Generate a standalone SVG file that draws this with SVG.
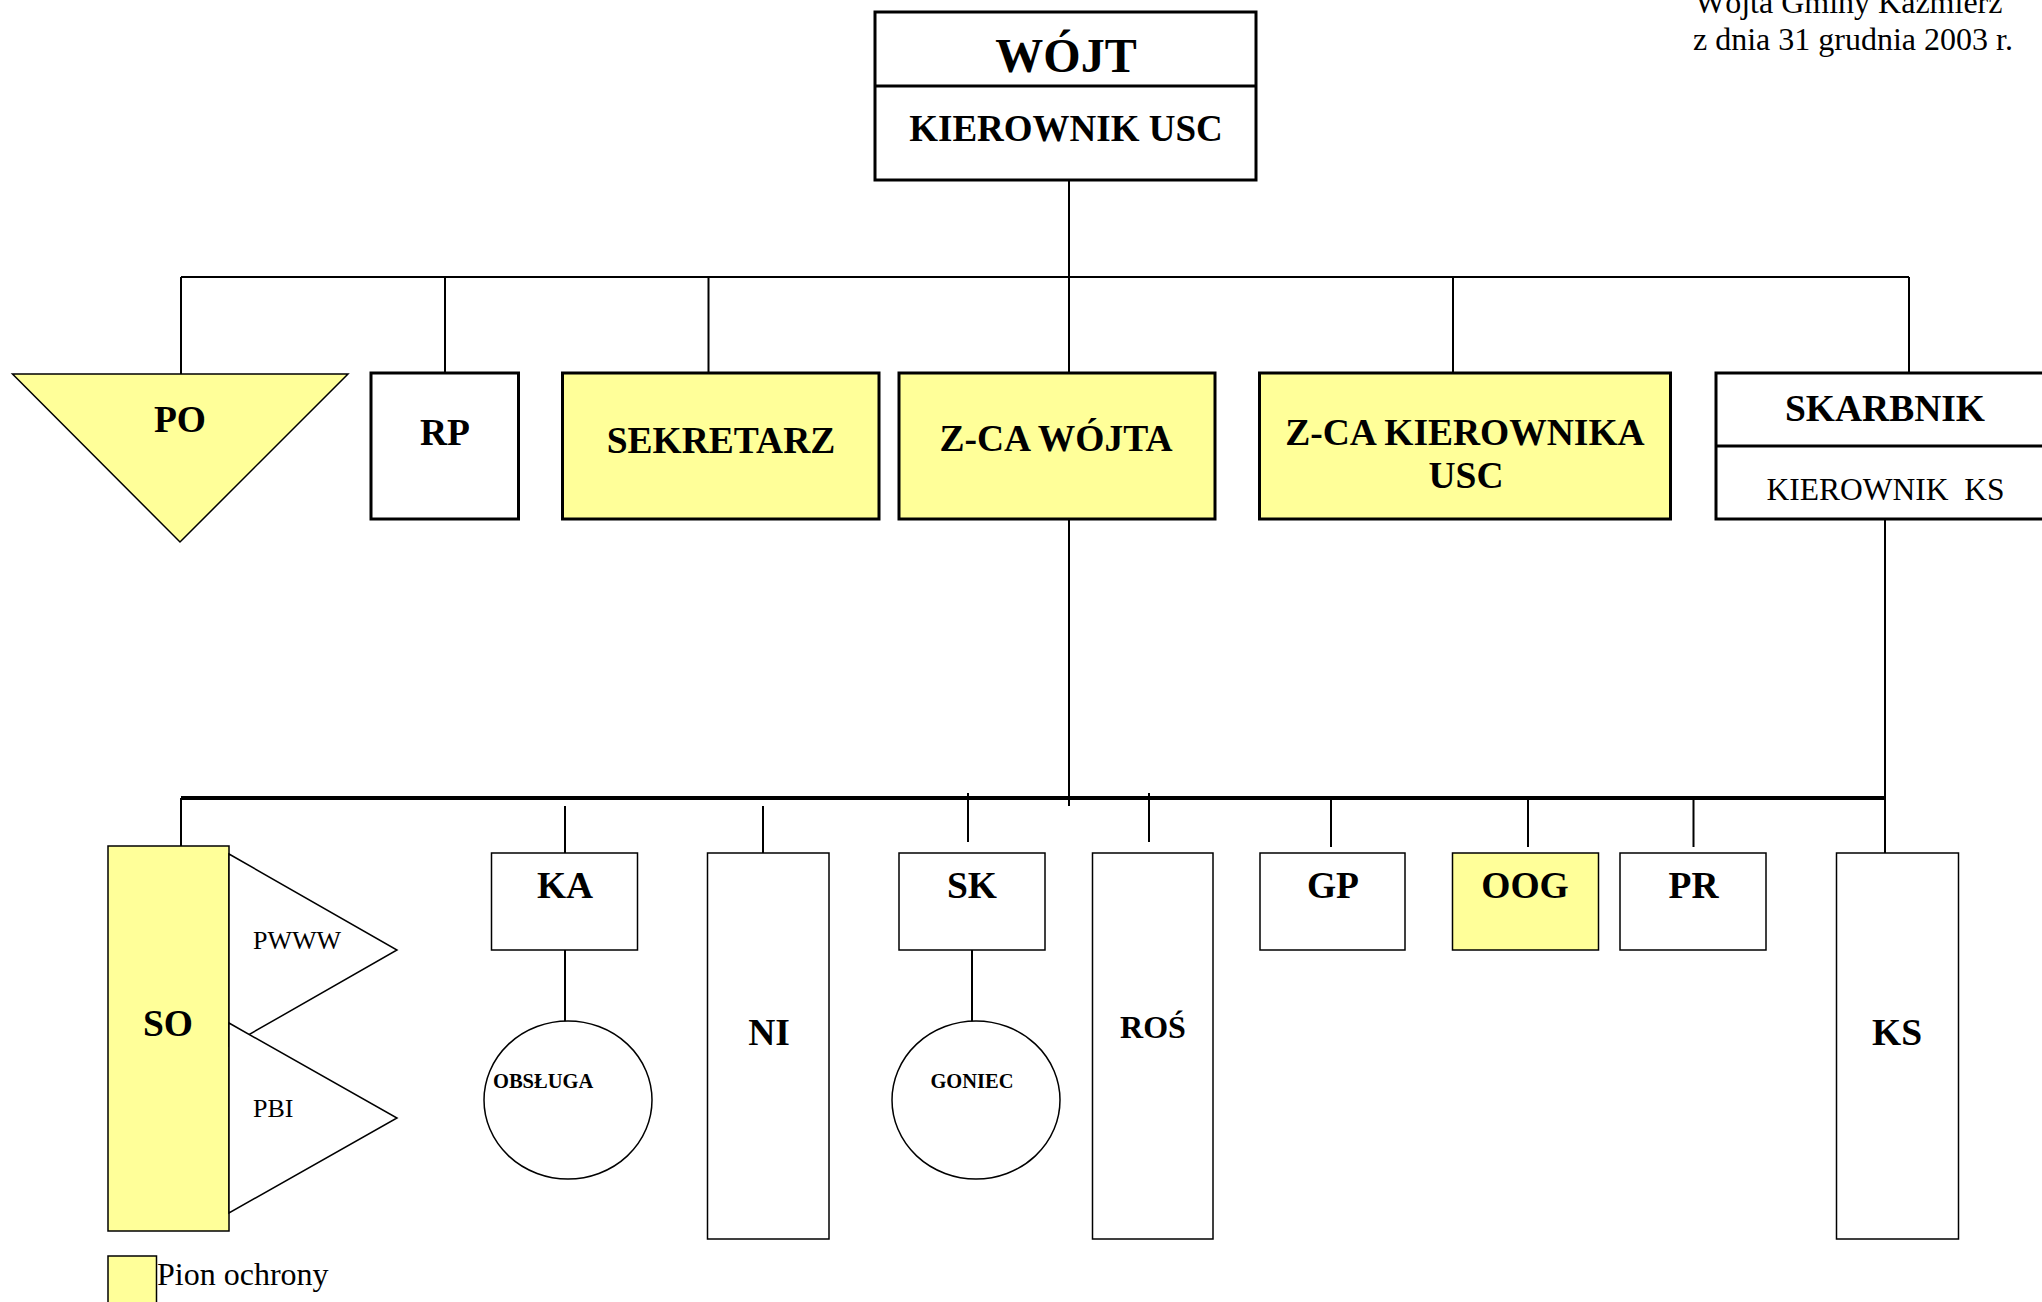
<svg xmlns="http://www.w3.org/2000/svg" width="2042" height="1302" viewBox="0 0 2042 1302">
<style>
text{font-family:"Liberation Serif","Times New Roman",serif;fill:#000}
.b{font-weight:bold}
.c{text-anchor:middle}
.big{font-size:37.5px}
.y{fill:#FFFF99}
.w{fill:#fff}
.thick{stroke:#000;stroke-width:3}
.thin{stroke:#000;stroke-width:1.5}
.ln{stroke:#000;stroke-width:2;fill:none}
.bus{stroke:#000;stroke-width:4;fill:none}
</style>
<rect width="2042" height="1302" fill="#fff"/>
<g id="header">
<text x="1695" y="13" font-size="32">Wójta Gminy Kazmierz</text>
<text x="1693" y="50" font-size="32">z dnia 31 grudnia 2003 r.</text>
</g>
<g id="connectors">
<path class="ln" d="M1069 180V373M181 277H1909M181 277V374M445 277V373M708.5 277V373M1453 277V373M1909 277V373"/>
<path class="ln" d="M1069 519V806M1885 519V854"/>
<path class="bus" d="M181 798H1885"/>
<path class="ln" d="M181 798V846M565 806V854M763 806V854M968 793V842M1149 793V842M1331 800V847M1528 800V847M1693.5 800V847"/>
<path class="ln" d="M565 950V1022M972 950V1022"/>
</g>
<g id="wojt">
<rect class="w thick" x="875" y="12" width="381" height="168"/>
<line class="thick" x1="875" y1="86" x2="1256" y2="86"/>
<text class="b c" x="1066" y="72" font-size="48">WÓJT</text>
<text class="b c" x="1066" y="141" font-size="37">KIEROWNIK USC</text>
</g>
<g id="po">
<polygon class="y thin" points="12.5,374 348,374 180,542"/>
<text class="b c big" x="180" y="432">PO</text>
</g>
<g id="rp">
<rect class="w thick" x="371" y="373" width="147.5" height="146"/>
<text class="b c big" x="445" y="445">RP</text>
</g>
<g id="sekretarz">
<rect class="y thick" x="562.5" y="373" width="316.5" height="146"/>
<text class="b c big" x="721" y="453">SEKRETARZ</text>
</g>
<g id="zca-wojta">
<rect class="y thick" x="899" y="373" width="316" height="146"/>
<text class="b c big" x="1056" y="451">Z-CA WÓJTA</text>
</g>
<g id="zca-kierownika">
<rect class="y thick" x="1259.5" y="373" width="411" height="146"/>
<text class="b c big" x="1465" y="445">Z-CA KIEROWNIKA</text>
<text class="b c big" x="1466" y="488">USC</text>
</g>
<g id="skarbnik">
<rect class="w thick" x="1716" y="373" width="340" height="146"/>
<line class="thick" x1="1716" y1="446" x2="2042" y2="446"/>
<text class="b c big" x="1885" y="421">SKARBNIK</text>
<text class="c" x="1885.5" y="500" font-size="31.5" xml:space="preserve">KIEROWNIK  KS</text>
</g>
<g id="so">
<rect class="y thin" x="108" y="846" width="121" height="385"/>
<polygon class="w thin" points="229,854 397,950 229,1046"/>
<polygon class="w thin" points="229,1023 397,1118 229,1213"/>
<text class="b c big" x="168" y="1036">SO</text>
<text x="253" y="949" font-size="26">PWWW</text>
<text x="253" y="1117" font-size="26">PBI</text>
</g>
<g id="ka">
<rect class="w thin" x="491.5" y="853" width="146" height="97"/>
<text class="b c big" x="565" y="898">KA</text>
</g>
<g id="obsluga">
<ellipse class="w thin" cx="568" cy="1100" rx="84" ry="79"/>
<text class="b" x="493" y="1088" font-size="20.5">OBSŁUGA</text>
</g>
<g id="ni">
<rect class="w thin" x="707.5" y="853" width="121.5" height="386"/>
<text class="b c big" x="769" y="1045">NI</text>
</g>
<g id="sk">
<rect class="w thin" x="899" y="853" width="146" height="97"/>
<text class="b c big" x="972" y="898">SK</text>
</g>
<g id="goniec">
<ellipse class="w thin" cx="976" cy="1100" rx="84" ry="79"/>
<text class="b c" x="972" y="1088" font-size="20.5">GONIEC</text>
</g>
<g id="ros">
<rect class="w thin" x="1092.5" y="853" width="120.5" height="386"/>
<text class="b c" x="1153" y="1038" font-size="32">ROŚ</text>
</g>
<g id="gp">
<rect class="w thin" x="1260" y="853" width="145" height="97"/>
<text class="b c big" x="1333" y="898">GP</text>
</g>
<g id="oog">
<rect class="y thin" x="1452.5" y="853" width="146" height="97"/>
<text class="b c big" x="1525" y="898">OOG</text>
</g>
<g id="pr">
<rect class="w thin" x="1620" y="853" width="146" height="97"/>
<text class="b c big" x="1693.5" y="898">PR</text>
</g>
<g id="ks">
<rect class="w thin" x="1836.5" y="853" width="122" height="386"/>
<text class="b c big" x="1897" y="1045">KS</text>
</g>
<g id="legend">
<rect class="y thin" x="108" y="1256" width="48.5" height="60"/>
<text x="157" y="1285" font-size="32">Pion ochrony</text>
</g>
</svg>
